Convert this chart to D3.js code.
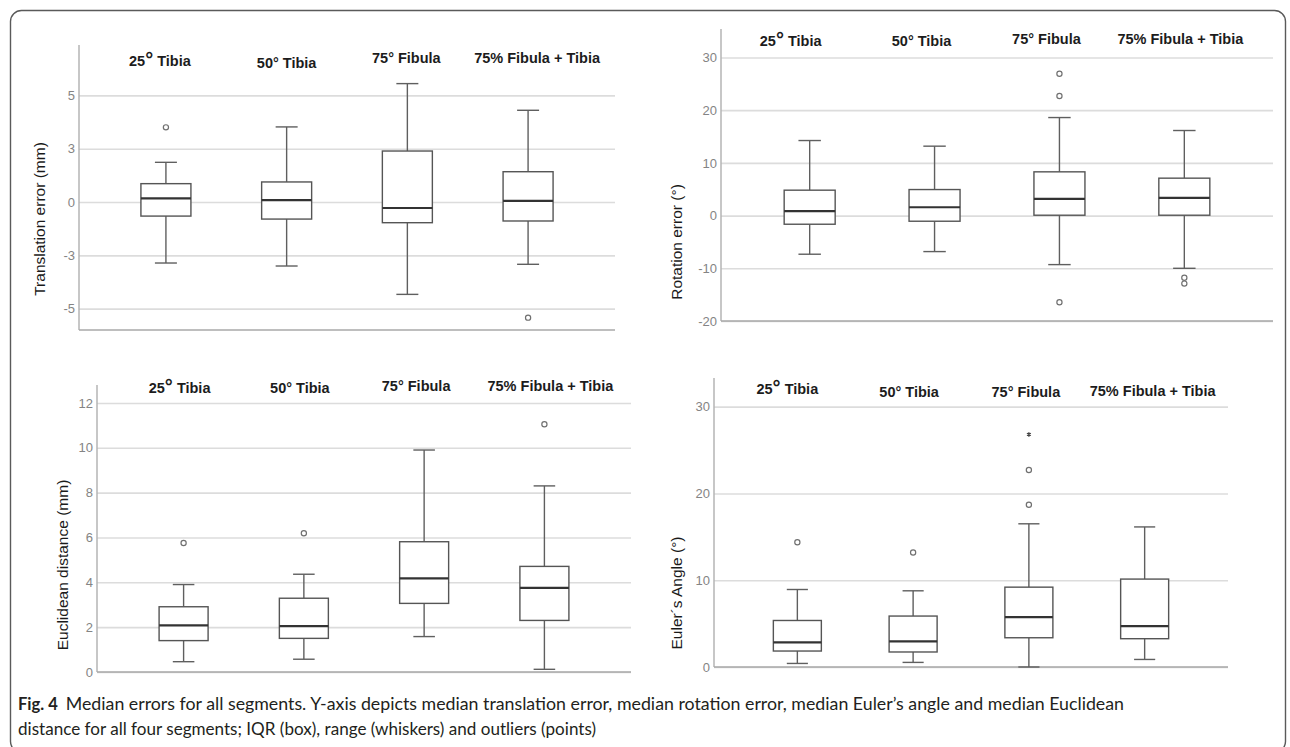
<!DOCTYPE html>
<html>
<head>
<meta charset="utf-8">
<style>
  body { margin: 0; background: #fff; }
  svg text { font-family: "Liberation Sans", Arial, sans-serif; }
  .tick text { fill: #848484; font-size: 13px; }
  .tick line { stroke: #dcdcdc; stroke-width: 1.6; }
  .cat { font-weight: bold; font-size: 14.5px; fill: #1c1c1c; text-anchor: middle; }
  .ytitle { font-size: 15.5px; fill: #1a1a1a; text-anchor: middle; }
  .caption { font-family: Lato, "Open Sans", sans-serif; font-size: 16.5px; fill: #231f20; }
</style>
<script src="https://cdn.jsdelivr.net/npm/d3@7"></script>
</head>
<body>
<svg id="chart"></svg>
<script>

var categories = ["25° Tibia", "50° Tibia", "75° Fibula", "75% Fibula + Tibia"];

// each box: [lower whisker, Q1, median, Q3, upper whisker]
var translationBoxes = [[-2.86, -0.66, 0.17, 0.86, 1.86], [-3.0, -0.80, 0.09, 0.94, 3.52],
                        [-4.33, -0.97, -0.28, 2.39, 5.55], [-2.92, -0.89, 0.05, 1.42, 4.30]];
var translationOutliers = [[3.5], [], [], [-5.42]];

var rotationBoxes = [[-7.33, -1.64, 0.83, 4.82, 14.24], [-6.83, -1.07, 1.58, 4.94, 13.17],
                     [-9.3, 0.07, 3.17, 8.3, 18.6], [-10.0, 0.07, 3.36, 7.1, 16.14]];
var rotationOutliers = [[], [], [26.9, 22.7, -16.45], [-11.8, -12.9]];

var euclideanBoxes = [[0.46, 1.40, 2.08, 2.91, 3.9], [0.57, 1.50, 2.05, 3.29, 4.36],
                      [1.58, 3.06, 4.18, 5.81, 9.9], [0.12, 2.30, 3.75, 4.71, 8.3]];
var euclideanOutliers = [[5.75], [6.19], [], [11.05]];

var eulerBoxes = [[0.41, 1.84, 2.83, 5.36, 8.93], [0.53, 1.73, 2.95, 5.87, 8.78],
                  [0, 3.37, 5.75, 9.2, 16.5], [0.87, 3.26, 4.72, 10.13, 16.14]];
var eulerOutliers = [[14.38], [13.19], [22.7, 18.7], []];
var eulerExtremes = [[], [], [26.8], []];

var translationTicks = [-5, -2.5, 0, 2.5, 5];
var translationTickLabels = ["-5", "-3", "0", "3", "5"];
var rotationTicks = [-20, -10, 0, 10, 20, 30];
var euclideanTicks = [0, 2, 4, 6, 8, 10, 12];
var eulerTicks = [0, 10, 20, 30];

var width = 1290,
    height = 747;

var svg = d3.select("#chart")
    .attr("width", width)
    .attr("height", height);

// outer frame
svg.append("rect")
    .attr("x", 10.5).attr("y", 10.5)
    .attr("width", 1275).attr("height", 742)
    .attr("rx", 11)
    .attr("fill", "none")
    .attr("stroke", "#5a5a5a")
    .attr("stroke-width", 1.4);

var panels = [
  { boxes: translationBoxes, outliers: translationOutliers, extremes: null,
    ticks: translationTicks, tickLabels: translationTickLabels, domain: [-6, 7.36],
    left: 79, right: 615, top: 45, bottom: 330, pad: 0.72, boxW: 50,
    title: "Translation error (mm)", titleX: 40, titleY: 219,
    labelY: [66, 68, 63, 63], labelDx: [-6, 0, -1, 9] },
  { boxes: rotationBoxes, outliers: rotationOutliers, extremes: null,
    ticks: rotationTicks, tickLabels: null, domain: [-20, 35.4],
    left: 721, right: 1273, top: 29, bottom: 321, pad: 0.71, boxW: 51,
    title: "Rotation error (°)", titleX: 677, titleY: 242,
    labelY: [46, 46, 44, 44], labelDx: [-19, -13, -13, -4] },
  { boxes: euclideanBoxes, outliers: euclideanOutliers, extremes: null,
    ticks: euclideanTicks, tickLabels: null, domain: [0, 12.8],
    left: 97, right: 631, top: 385, bottom: 672, pad: 0.72, boxW: 49,
    title: "Euclidean distance (mm)", titleX: 63, titleY: 565,
    labelY: [393, 393, 391, 391], labelDx: [-4, -4, -8, 6] },
  { boxes: eulerBoxes, outliers: eulerOutliers, extremes: eulerExtremes,
    ticks: eulerTicks, tickLabels: null, domain: [0, 33.3],
    left: 714, right: 1228, top: 378, bottom: 667, pad: 0.72, boxW: 48,
    title: "Euler´s Angle (°)", titleX: 677, titleY: 593,
    labelY: [394, 397, 397, 396], labelDx: [-10, -4, -3, 8] }
];

panels.forEach(function(p) {
  var g = svg.append("g");
  var y = d3.scaleLinear().domain(p.domain).range([p.bottom, p.top]);
  var x = d3.scalePoint().domain(categories).range([p.left, p.right]).padding(p.pad);
  var w = p.right - p.left;

  // gridlines and tick labels
  g.append("g")
      .attr("transform", "translate(" + p.left + ",0)")
      .call(d3.axisLeft(y)
          .tickValues(p.ticks)
          .tickFormat(function(d, i) { return p.tickLabels ? p.tickLabels[i] : d; })
          .tickSize(-w)
          .tickPadding(4))
      .call(function(a) { a.select(".domain").remove(); });

  // axis lines
  g.append("line")
      .attr("x1", p.left).attr("x2", p.left)
      .attr("y1", p.top).attr("y2", p.bottom)
      .attr("stroke", "#b4b4b4").attr("stroke-width", 1.5);
  g.append("line")
      .attr("x1", p.left).attr("x2", p.right)
      .attr("y1", p.bottom).attr("y2", p.bottom)
      .attr("stroke", "#a8a8a8").attr("stroke-width", 1.5);

  var cap = p.boxW * 0.44;

  var box = g.selectAll(".box")
      .data(p.boxes)
    .enter().append("g")
      .attr("class", "box")
      .attr("transform", function(d, i) { return "translate(" + x(categories[i]) + ",0)"; });

  // whiskers
  box.append("line")
      .attr("y1", function(d) { return y(d[0]); })
      .attr("y2", function(d) { return y(d[1]); })
      .attr("stroke", "#5f5f5f").attr("stroke-width", 1.4);
  box.append("line")
      .attr("y1", function(d) { return y(d[3]); })
      .attr("y2", function(d) { return y(d[4]); })
      .attr("stroke", "#5f5f5f").attr("stroke-width", 1.4);
  [0, 4].forEach(function(k) {
    box.append("line")
        .attr("x1", -cap / 2).attr("x2", cap / 2)
        .attr("y1", function(d) { return y(d[k]); })
        .attr("y2", function(d) { return y(d[k]); })
        .attr("stroke", "#5f5f5f").attr("stroke-width", 1.4);
  });

  box.append("rect")
      .attr("x", -p.boxW / 2)
      .attr("width", p.boxW)
      .attr("y", function(d) { return y(d[3]); })
      .attr("height", function(d) { return y(d[1]) - y(d[3]); })
      .attr("fill", "#fff")
      .attr("stroke", "#555").attr("stroke-width", 1.4);

  box.append("line")
      .attr("x1", -p.boxW / 2).attr("x2", p.boxW / 2)
      .attr("y1", function(d) { return y(d[2]); })
      .attr("y2", function(d) { return y(d[2]); })
      .attr("stroke", "#333").attr("stroke-width", 2.2);

  // outliers
  p.outliers.forEach(function(vals, i) {
    g.selectAll(null)
        .data(vals)
      .enter().append("circle")
        .attr("cx", x(categories[i]))
        .attr("cy", function(d) { return y(d); })
        .attr("r", 2.6)
        .attr("fill", "#fff")
        .attr("stroke", "#707070")
        .attr("stroke-width", 1.2);
  });
  if (p.extremes) {
    p.extremes.forEach(function(vals, i) {
      g.selectAll(null)
          .data(vals)
        .enter().append("path")
          .attr("d", d3.symbol(d3.symbolAsterisk, 14))
          .attr("transform", function(d) { return "translate(" + x(categories[i]) + "," + y(d) + ")"; })
          .attr("stroke", "#444")
          .attr("stroke-width", 1.3);
    });
  }

  // category labels above the boxes
  categories.forEach(function(c, i) {
    var t = g.append("text")
        .attr("class", "cat")
        .attr("x", x(c) + p.labelDx[i])
        .attr("y", p.labelY[i]);
    if (i === 0) {
      t.append("tspan").text("25");
      t.append("tspan").style("font-size", "20px").text("°");
      t.append("tspan").text(" Tibia");
    } else {
      t.text(c);
    }
  });

  // y axis title
  g.append("text")
      .attr("class", "ytitle")
      .attr("transform", "translate(" + p.titleX + "," + p.titleY + ") rotate(-90)")
      .attr("dy", "0.35em")
      .text(p.title);
});

// caption
var capX = 18;
var fig = svg.append("text")
    .attr("class", "caption")
    .attr("x", capX).attr("y", 710)
    .style("font-weight", "bold")
    .text("Fig. 4");
var figW = fig.node().getComputedTextLength();
svg.append("text")
    .attr("class", "caption")
    .attr("x", capX + figW + 8).attr("y", 710)
    .attr("textLength", 1124 - (capX + figW + 8))
    .attr("lengthAdjust", "spacingAndGlyphs")
    .text("Median errors for all segments. Y-axis depicts median translation error, median rotation error, median Euler’s angle and median Euclidean");
svg.append("text")
    .attr("class", "caption")
    .attr("x", capX).attr("y", 735)
    .attr("textLength", 596 - capX)
    .attr("lengthAdjust", "spacingAndGlyphs")
    .text("distance for all four segments; IQR (box), range (whiskers) and outliers (points)");

</script>
</body>
</html>
